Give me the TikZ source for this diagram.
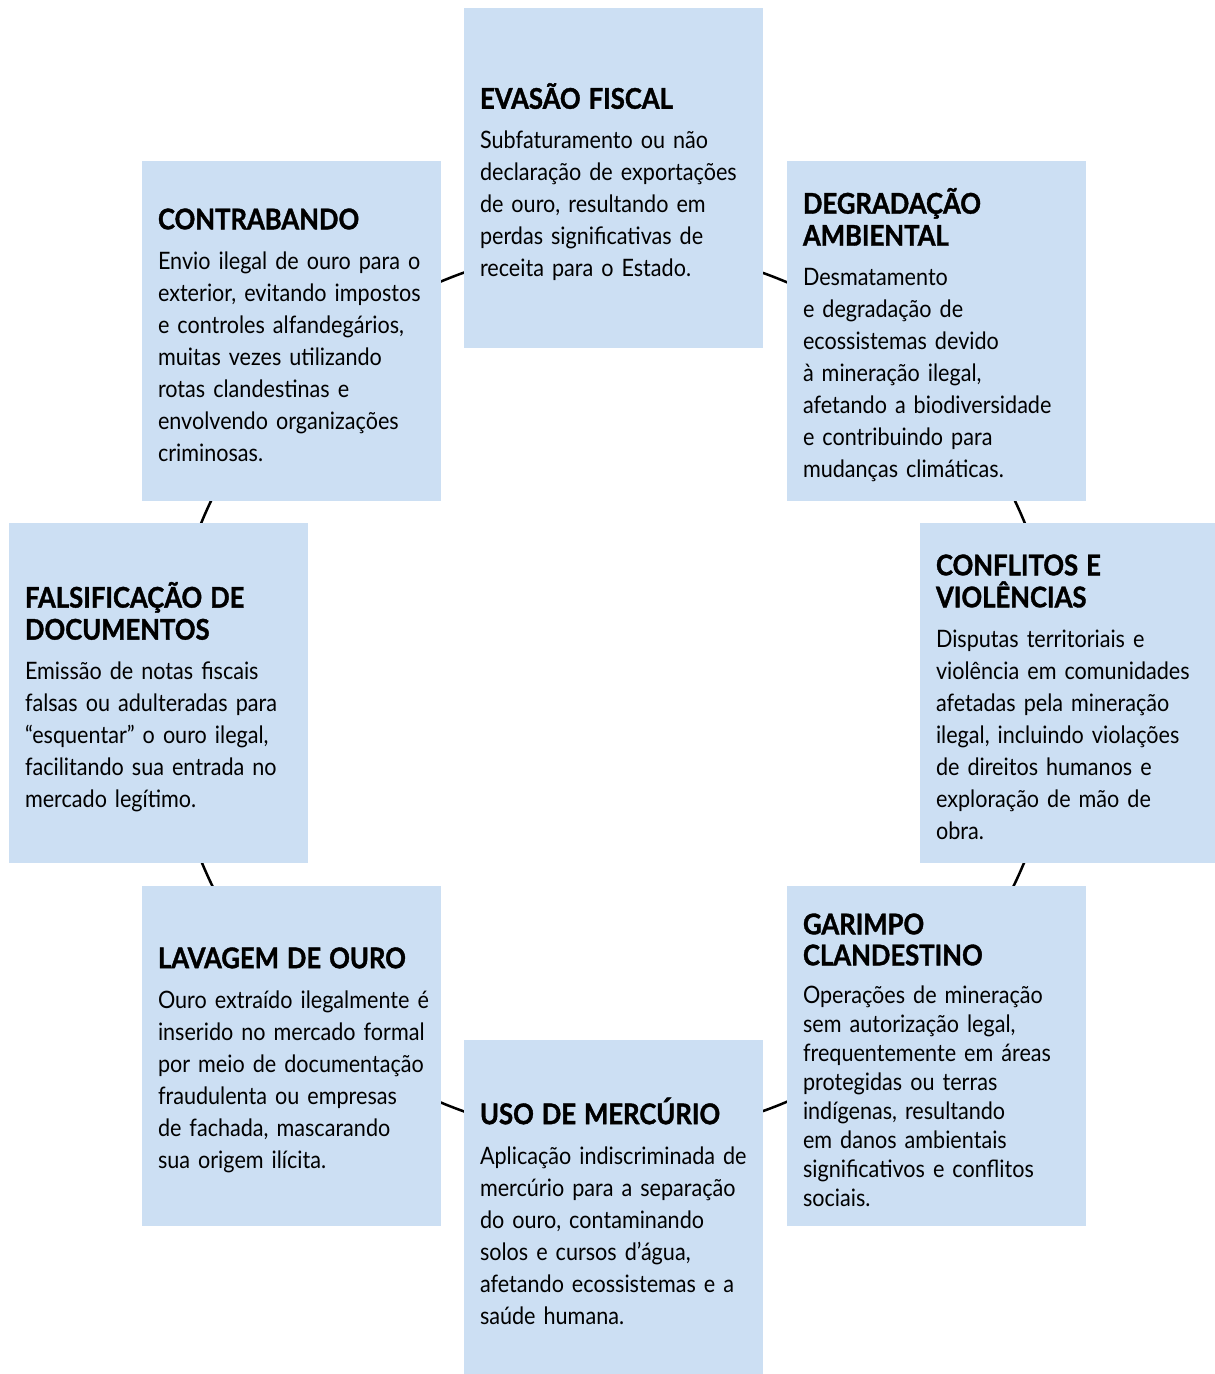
\documentclass[tikz,border=0pt]{standalone}
\usepackage{fontspec}
\setmainfont{Lato}[FakeStretch=0.9]
\newfontfamily\titlefam{Lato}[FakeStretch=0.9, FakeBold=1.3]
\definecolor{boxblue}{HTML}{CCDFF3}
\tikzset{
  infobox/.style={fill=boxblue, draw=none, minimum width=299pt, minimum height=340pt,
    inner sep=0pt, anchor=center},
  infotext/.style={inner xsep=0pt, inner ysep=0pt, text width=295pt, align=left, anchor=west,
    xshift=16pt, yshift=-4pt, font=\fontsize{24}{32}\selectfont},
  ring/.style={draw=black, line width=2.5pt}
}
\newcommand{\ttl}[1]{{\fontsize{28.5}{32}\selectfont\titlefam\bfseries #1}}
\begin{document}
\begin{tikzpicture}[x=1pt,y=-1pt]
\useasboundingbox (0,0) rectangle (1215,1374);
\coordinate (ringc) at (613,692);
\draw[ring] (ringc) circle[radius=445pt];

\node[infobox] (evasao) at (613.5,178) {};
\node[infotext] (evasao-t) at (evasao.west) {\ttl{EVASÃO FISCAL}\\[8pt]
Subfaturamento ou não\\ declaração de exportações\\ de ouro, resultando em\\ perdas significativas de\\ receita para o Estado.};

\node[infobox] (degradacao) at (936.5,331) {};
\node[infotext] (degradacao-t) at (degradacao.west) {\ttl{DEGRADAÇÃO}\\ \ttl{AMBIENTAL}\\[8pt]
Desmatamento\\ e degradação de\\ ecossistemas devido\\ à mineração ilegal,\\ afetando a biodiversidade\\ e contribuindo para\\ mudanças climáticas.};

\node[infobox, minimum width=295pt] (conflitos) at (1067.5,693) {};
\node[infotext] (conflitos-t) at (conflitos.west) {\ttl{CONFLITOS E}\\ \ttl{VIOLÊNCIAS}\\[8pt]
Disputas territoriais e\\ violência em comunidades\\ afetadas pela mineração\\ ilegal, incluindo violações\\ de direitos humanos e\\ exploração de mão de\\ obra.};

\node[infobox] (garimpo) at (936.5,1056) {};
\node[infotext, font=\fontsize{24}{29}\selectfont] (garimpo-t) at (garimpo.west) {\ttl{GARIMPO}\\[2pt] \ttl{CLANDESTINO}\\[9pt]
Operações de mineração\\ sem autorização legal,\\ frequentemente em áreas\\ protegidas ou terras\\ indígenas, resultando\\ em danos ambientais\\ significativos e conflitos\\ sociais.};

\node[infobox, minimum height=334pt] (mercurio) at (613.5,1207) {};
\node[infotext] (mercurio-t) at (mercurio.west) {\ttl{USO DE MERCÚRIO}\\[8pt]
Aplicação indiscriminada de\\ mercúrio para a separação\\ do ouro, contaminando\\ solos e cursos d’água,\\ afetando ecossistemas e a\\ saúde humana.};

\node[infobox] (lavagem) at (291.5,1056) {};
\node[infotext] (lavagem-t) at (lavagem.west) {\ttl{LAVAGEM DE OURO}\\[8pt]
Ouro extraído ilegalmente é\\ inserido no mercado formal\\ por meio de documentação\\ fraudulenta ou empresas\\ de fachada, mascarando\\ sua origem ilícita.};

\node[infobox] (falsificacao) at (158.5,693) {};
\node[infotext] (falsificacao-t) at (falsificacao.west) {\ttl{FALSIFICAÇÃO DE}\\ \ttl{DOCUMENTOS}\\[8pt]
Emissão de notas fiscais\\ falsas ou adulteradas para\\ “esquentar” o ouro ilegal,\\ facilitando sua entrada no\\ mercado legítimo.};

\node[infobox] (contrabando) at (291.5,331) {};
\node[infotext] (contrabando-t) at (contrabando.west) {\ttl{CONTRABANDO}\\[8pt]
Envio ilegal de ouro para o\\ exterior, evitando impostos\\ e controles alfandegários,\\ muitas vezes utilizando\\ rotas clandestinas e\\ envolvendo organizações\\ criminosas.};
\end{tikzpicture}
\end{document}
